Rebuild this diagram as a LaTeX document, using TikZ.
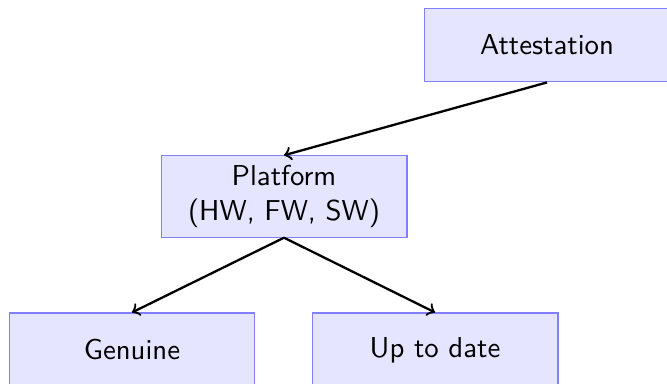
\documentclass[tikz,border=0pt]{standalone}
\usepackage{tikz}
\usetikzlibrary{arrows, shapes}

\begin{document}
\begin{tikzpicture}[
	block/.style={rectangle, draw=blue!50, fill=blue!10, font=\sffamily, align=center, minimum width=3cm, minimum height=0.9cm},
	link/.style={->, thick, black},
	]
	\useasboundingbox (0,0) rectangle (8.14,-4.686);
	\node (attest) [block] at (6.676,-0.549) {Attestation};
	\node (platform) [block] at (3.466,-2.398) {Platform\\(HW, FW, SW)};
	\node (genuine) [block] at (1.611,-4.27) {Genuine};
	\node (uptodate) [block] at (5.309,-4.27) {Up to date};
	\draw[link] (attest.south) -- (platform.north);
	\draw[link] (platform.south) -- (genuine.north);
	\draw[link] (platform.south) -- (uptodate.north);
\end{tikzpicture}
\end{document}
